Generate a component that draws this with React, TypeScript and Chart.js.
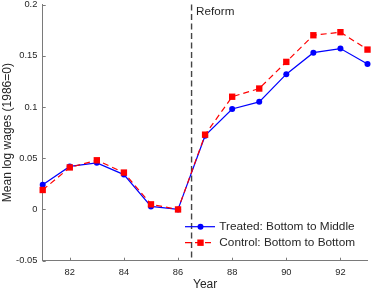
import React, { useEffect, useRef } from "react";
import { Chart, registerables } from "chart.js";

Chart.register(...registerables);

const years = [81, 82, 83, 84, 85, 86, 87, 88, 89, 90, 91, 92, 93];
const treated = [0.024, 0.042, 0.0455, 0.034, 0.003, 0.0, 0.072, 0.098, 0.105, 0.132, 0.153, 0.157, 0.142];
const control = [0.019, 0.041, 0.048, 0.036, 0.005, 0.0, 0.073, 0.11, 0.118, 0.144, 0.17, 0.173, 0.156];
const xTicks = [82, 84, 86, 88, 90, 92];
const yTicks = [-0.05, 0, 0.05, 0.1, 0.15, 0.2];
const yTickLabels = ["-0.05", "0", "0.05", "0.1", "0.15", "0.2"];
const reformYear = 86.5;
const reformLabel = "Reform";
const seriesNames = ["Treated: Bottom to Middle", "Control: Bottom to Bottom"];
const xTitle = "Year";
const yTitle = "Mean log wages (1986=0)";

const FONT_FAMILY = "'Liberation Sans', Arial, Helvetica, sans-serif";
const TEXT = "#262626";
const AXIS = "#7a7a7a";
const BLUE = "#0000ff";
const RED = "#ff0000";
const DASH = [6, 4];

const overlay = {
  id: "overlay",
  beforeDatasetsDraw(chart: any) {
    const { ctx, chartArea, scales } = chart;
    const x = scales.x;
    const y = scales.y;
    const px = x.getPixelForValue(reformYear);
    ctx.save();
    // reform line
    ctx.strokeStyle = "#454545";
    ctx.lineWidth = 1.4;
    ctx.setLineDash([6, 3.5]);
    ctx.beginPath();
    ctx.moveTo(px, chartArea.top);
    ctx.lineTo(px, chartArea.bottom);
    ctx.stroke();
    ctx.setLineDash([]);
    ctx.fillStyle = TEXT;
    ctx.font = `11.7px ${FONT_FAMILY}`;
    ctx.textBaseline = "middle";
    ctx.textAlign = "left";
    ctx.fillText(reformLabel, px + 4.5, chartArea.top + 7.5);
    // inward tick marks
    ctx.strokeStyle = AXIS;
    ctx.lineWidth = 1;
    ctx.beginPath();
    for (const t of xTicks) {
      const p = Math.round(x.getPixelForValue(t)) + 0.5;
      ctx.moveTo(p, chartArea.bottom);
      ctx.lineTo(p, chartArea.bottom - 3);
    }
    for (const t of yTicks) {
      const p = Math.round(y.getPixelForValue(t)) + 0.5;
      ctx.moveTo(chartArea.left, p);
      ctx.lineTo(chartArea.left + 3, p);
    }
    ctx.stroke();
    ctx.restore();
  },
  afterDatasetsDraw(chart: any) {
    const { ctx } = chart;
    const rows = [
      { y: 226.7, color: BLUE, dash: [] as number[], style: "circle" },
      { y: 242.7, color: RED, dash: DASH, style: "rect" },
    ];
    ctx.save();
    rows.forEach((r, i) => {
      ctx.strokeStyle = r.color;
      ctx.lineWidth = 1.2;
      ctx.setLineDash(r.dash);
      ctx.beginPath();
      ctx.moveTo(185, r.y);
      ctx.lineTo(215, r.y);
      ctx.stroke();
      ctx.setLineDash([]);
      ctx.fillStyle = r.color;
      if (r.style === "circle") {
        ctx.beginPath();
        ctx.arc(200.5, r.y, 3, 0, Math.PI * 2);
        ctx.fill();
      } else {
        ctx.fillRect(200.5 - 3.2, r.y - 3.2, 6.4, 6.4);
      }
      ctx.fillStyle = TEXT;
      ctx.font = `11.8px ${FONT_FAMILY}`;
      ctx.textBaseline = "middle";
      ctx.textAlign = "left";
      ctx.fillText(seriesNames[i], 219.3, r.y);
    });
    ctx.restore();
  },
};

export default function App() {
  const ref = useRef<HTMLCanvasElement | null>(null);
  useEffect(() => {
    if (!ref.current) return;
    const chart = new Chart(ref.current, {
      type: "line",
      data: {
        datasets: [
          {
            label: seriesNames[0],
            data: years.map((yr, i) => ({ x: yr, y: treated[i] })),
            borderColor: BLUE,
            backgroundColor: BLUE,
            borderWidth: 1.2,
            pointStyle: "circle",
            pointRadius: 3,
            pointBorderWidth: 0,
            pointBackgroundColor: BLUE,
            tension: 0,
            clip: false as any,
            order: 1,
          },
          {
            label: seriesNames[1],
            data: years.map((yr, i) => ({ x: yr, y: control[i] })),
            borderColor: RED,
            backgroundColor: RED,
            borderWidth: 1.2,
            borderDash: DASH,
            pointStyle: "rect",
            pointRadius: 4.5,
            pointBorderWidth: 0,
            pointBackgroundColor: RED,
            tension: 0,
            clip: false as any,
            order: 0,
          },
        ],
      },
      options: {
        responsive: false,
        animation: false,
        devicePixelRatio: 1,
        layout: { padding: { top: 3.5, right: 3.5, left: 0, bottom: 0 } },
        plugins: { legend: { display: false }, tooltip: { enabled: false } },
        scales: {
          x: {
            type: "linear",
            min: 81,
            max: 93,
            afterBuildTicks: (s: any) => {
              s.ticks = xTicks.map((v) => ({ value: v }));
            },
            grid: { display: false, drawTicks: false },
            border: { display: true, color: AXIS, width: 1 },
            ticks: {
              color: TEXT,
              font: { family: FONT_FAMILY, size: 9.3 },
              padding: 6.5,
              maxRotation: 0,
              autoSkip: false,
              callback: (v: any) => String(v),
            },
            title: {
              display: true,
              text: xTitle,
              color: TEXT,
              font: { family: FONT_FAMILY, size: 12 },
              padding: { top: 0, bottom: 0 },
            },
            afterFit: (s: any) => {
              s.height = 31.3;
              s.paddingLeft = 0;
              s.paddingRight = 0;
            },
          },
          y: {
            type: "linear",
            min: -0.05,
            max: 0.2,
            afterBuildTicks: (s: any) => {
              s.ticks = yTicks.map((v) => ({ value: v }));
            },
            grid: { display: false, drawTicks: false },
            border: { display: true, color: AXIS, width: 1 },
            ticks: {
              color: TEXT,
              font: { family: FONT_FAMILY, size: 9.3 },
              padding: 5.4,
              autoSkip: false,
              callback: (_v: any, i: number) => yTickLabels[i],
            },
            title: {
              display: true,
              text: yTitle,
              color: TEXT,
              font: { family: FONT_FAMILY, size: 12 },
              padding: { top: 0, bottom: 0 },
            },
            afterFit: (s: any) => {
              s.width = 42.7;
              s.paddingTop = 0;
              s.paddingBottom = 0;
            },
          },
        },
      },
      plugins: [overlay],
    });
    return () => chart.destroy();
  }, []);
  return (
    <div style={{ position: "fixed", left: 0, top: 0, width: 372, height: 292, background: "#fff" }}>
      <canvas ref={ref} width={372} height={292} />
    </div>
  );
}
